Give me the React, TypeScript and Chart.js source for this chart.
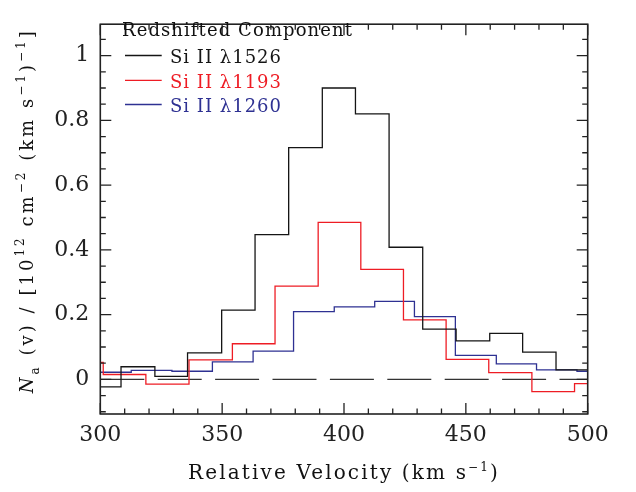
import React, { useEffect, useRef } from "react";
import { Chart, registerables } from "chart.js";
Chart.register(...registerables);

// ---- data ----
const blackEdges = [294.7, 308.5, 322.4, 335.8, 349.8, 363.5, 377.3, 391.1, 404.7, 418.5, 432.3, 446.0, 459.8, 473.3, 487.0, 500.8];
const blackValues = [-0.023, 0.039, 0.009, 0.082, 0.214, 0.447, 0.716, 0.9, 0.82, 0.408, 0.155, 0.119, 0.142, 0.084, 0.029];

const redEdges = [283.6, 301.2, 318.7, 336.4, 354.2, 371.7, 389.4, 406.9, 424.4, 441.9, 459.4, 477.1, 494.6, 512.1];
const redValues = [0.052, 0.015, -0.015, 0.06, 0.11, 0.288, 0.485, 0.34, 0.184, 0.062, 0.021, -0.038, -0.013];

const blueEdges = [296.0, 312.7, 329.4, 346.0, 362.7, 379.3, 396.0, 412.6, 428.9, 445.7, 462.5, 479.0, 495.6, 512.2];
const blueValues = [0.022, 0.028, 0.025, 0.054, 0.087, 0.209, 0.224, 0.241, 0.194, 0.074, 0.048, 0.029, 0.025];

const zeroLineX = [300, 500];
const zeroLineY = [0, 0];

const xTickValues = [300, 350, 400, 450, 500];
const yTickValues = [0, 0.2, 0.4, 0.6, 0.8, 1];

const legendTitle = "Redshifted Component";
const seriesLabels = ["Si II \u03bb1526", "Si II \u03bb1193", "Si II \u03bb1260"];
const seriesColors = ["#151515", "#ee1c24", "#2e3192"];

const FAMILY = "'DejaVu Serif', serif";

type Part = { t: string; size: number; dy: number; italic?: boolean };

function drawRich(ctx: CanvasRenderingContext2D, parts: Part[], cx: number, baseY: number, target: number, color: string) {
  let natural = 0;
  let nChars = 0;
  const widths = parts.map((p) => {
    ctx.font = `${p.italic ? "italic " : ""}${p.size}px ${FAMILY}`;
    (ctx as any).letterSpacing = "0px";
    const w = ctx.measureText(p.t).width;
    natural += w;
    nChars += [...p.t].length;
    return w;
  });
  const sp = target ? (target - natural) / nChars : 0;
  let x = cx - (natural + sp * nChars) / 2;
  ctx.fillStyle = color;
  ctx.textAlign = "left";
  ctx.textBaseline = "alphabetic";
  parts.forEach((p, i) => {
    ctx.font = `${p.italic ? "italic " : ""}${p.size}px ${FAMILY}`;
    (ctx as any).letterSpacing = `${sp}px`;
    ctx.fillText(p.t, x, baseY + p.dy);
    x += widths[i] + sp * [...p.t].length;
  });
  (ctx as any).letterSpacing = "0px";
}

const decorPlugin = {
  id: "decor",
  afterDraw(chart: any) {
    const ctx: CanvasRenderingContext2D = chart.ctx;
    const { left, right, top, bottom } = chart.chartArea;
    const xs = chart.scales.x;
    const ys = chart.scales.y;
    ctx.save();
    ctx.strokeStyle = "#222";
    ctx.lineWidth = 1.3;
    ctx.beginPath();
    for (let v = 300; v <= 500.001; v += 10) {
      const px = xs.getPixelForValue(v);
      const len = Math.abs(v % 50) < 0.01 ? 11 : 5.5;
      ctx.moveTo(px, bottom);
      ctx.lineTo(px, bottom - len);
      ctx.moveTo(px, top);
      ctx.lineTo(px, top + len);
    }
    for (let k = -2; k <= 21; k++) {
      const v = k * 0.05;
      const py = ys.getPixelForValue(v);
      if (py < top - 0.5 || py > bottom + 0.5) continue;
      const len = k % 4 === 0 ? 11 : 5.5;
      ctx.moveTo(left, py);
      ctx.lineTo(left + len, py);
      ctx.moveTo(right, py);
      ctx.lineTo(right - len, py);
    }
    ctx.stroke();
    ctx.lineWidth = 1.6;
    ctx.strokeRect(left, top, right - left, bottom - top);

    // legend
    drawRich(ctx, [{ t: legendTitle, size: 18, dy: 0 }], 122 + 231 / 2, 36, 231, "#111");
    const rowLine = [55.5, 80.3, 104.5];
    const rowBase = [63, 87.5, 112];
    seriesLabels.forEach((lab, i) => {
      ctx.strokeStyle = seriesColors[i];
      ctx.lineWidth = 1.3;
      ctx.beginPath();
      ctx.moveTo(125, rowLine[i]);
      ctx.lineTo(161.7, rowLine[i]);
      ctx.stroke();
      drawRich(ctx, [{ t: lab, size: 18, dy: 0 }], 170 + 112 / 2, rowBase[i], 112, seriesColors[i]);
    });

    // x title
    drawRich(
      ctx,
      [
        { t: "Relative Velocity (km s", size: 20, dy: 0 },
        { t: "\u22121", size: 12, dy: -8 },
        { t: ")", size: 20, dy: 0 },
      ],
      344,
      478.5,
      312,
      "#111"
    );

    // y title (rotated)
    ctx.translate(32.5, 210.7);
    ctx.rotate(-Math.PI / 2);
    drawRich(
      ctx,
      [
        { t: "N", size: 18, dy: 0, italic: true },
        { t: "a", size: 12, dy: 6 },
        { t: " (v) / [10", size: 18, dy: 0 },
        { t: "12", size: 12, dy: -9 },
        { t: " cm", size: 18, dy: 0 },
        { t: "\u22122", size: 12, dy: -8 },
        { t: " (km s", size: 18, dy: 0 },
        { t: "\u22121", size: 12, dy: -8 },
        { t: ")", size: 18, dy: 0 },
        { t: "\u22121", size: 12, dy: -8 },
        { t: "]", size: 18, dy: 0 },
      ],
      0,
      0,
      365,
      "#111"
    );
    ctx.restore();
  },
};

export default function App() {
  const ref = useRef<HTMLCanvasElement>(null);
  useEffect(() => {
    document.body.style.margin = "0";
    const canvas = ref.current!;
    const toPoints = (edges: number[], vals: number[]) =>
      edges.map((e, i) => ({ x: e, y: vals[Math.min(i, vals.length - 1)] }));
    const mk = (label: string, edges: number[], vals: number[], color: string) => ({
      label,
      data: toPoints(edges, vals),
      borderColor: color,
      borderWidth: 1.3,
      stepped: "before" as const,
      fill: false,
      pointRadius: 0,
      tension: 0,
    });
    const chart = new Chart(canvas, {
      type: "line",
      data: {
        datasets: [
          mk(seriesLabels[0], blackEdges, blackValues, seriesColors[0]),
          mk(seriesLabels[1], redEdges, redValues, seriesColors[1]),
          mk(seriesLabels[2], blueEdges, blueValues, seriesColors[2]),
          {
            label: "zero",
            data: zeroLineX.map((x, i) => ({ x, y: zeroLineY[i] })),
            borderColor: "#333",
            borderWidth: 1.3,
            borderDash: [44, 13.4],
            pointRadius: 0,
            fill: false,
          },
        ],
      },
      options: {
        responsive: false,
        animation: false,
        devicePixelRatio: 1,
        layout: { padding: { left: 0, top: 4.5, right: 48.3, bottom: 0 } },
        plugins: { legend: { display: false }, tooltip: { enabled: false } },
        scales: {
          x: {
            type: "linear",
            min: 300,
            max: 500,
            grid: { display: false, drawTicks: false },
            border: { display: false },
            afterBuildTicks: (s: any) => {
              s.ticks = xTickValues.map((v) => ({ value: v }));
            },
            afterFit: (s: any) => {
              s.height = 78;
            },
            ticks: {
              padding: 8,
              color: "#222",
              font: { family: FAMILY, size: 22 },
              maxRotation: 0,
              autoSkip: false,
              callback: (v: any) => String(v),
            },
          },
          y: {
            type: "linear",
            min: -0.107,
            max: 1.097,
            grid: { display: false, drawTicks: false },
            border: { display: false },
            afterBuildTicks: (s: any) => {
              s.ticks = yTickValues.map((v) => ({ value: v }));
            },
            afterFit: (s: any) => {
              s.width = 100.3;
            },
            ticks: {
              padding: 11,
              color: "#222",
              font: { family: FAMILY, size: 22 },
              autoSkip: false,
              callback: (v: any) => String(v),
            },
          },
        },
      },
      plugins: [decorPlugin],
    } as any);
    return () => chart.destroy();
  }, []);
  return (
    <div style={{ position: "absolute", left: 0, top: 0, width: 636, height: 492 }}>
      <canvas ref={ref} width={636} height={492} style={{ display: "block" }} />
    </div>
  );
}
